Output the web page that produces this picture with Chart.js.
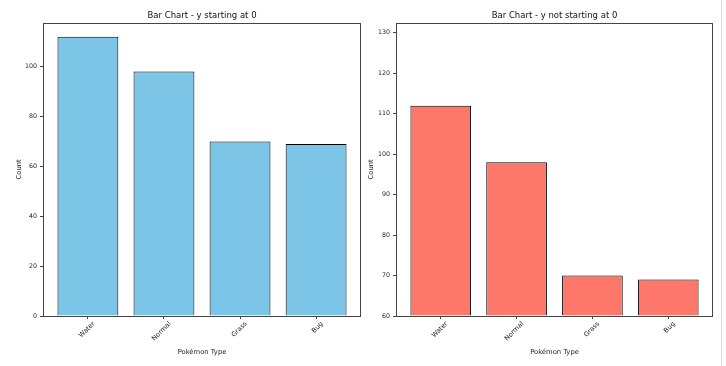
<html>
<head>
<script src="https://cdn.jsdelivr.net/npm/chart.js@4"></script>
<style>
  body { margin: 0; background: #fff; width: 726px; height: 366px; position: relative; overflow: hidden; }
  .box { position: absolute; top: 0; }
  #edge { position: absolute; left: 721px; top: 0; width: 0; height: 366px; border-left: 1px solid #d8dde3; }
</style>
<script>
// data
var types = ["Water", "Normal", "Grass", "Bug"];
var counts = [112, 98, 70, 69];
var leftTicks = [0, 20, 40, 60, 80, 100];
var rightTicks = [60, 70, 80, 90, 100, 110, 120, 130];

var FONT = "DejaVu Sans";

// draws the four spines round the plot area
var frame = {
    id: 'frame',
    afterDraw: function(chart) {
        var a = chart.chartArea, c = chart.ctx;
        c.save();
        c.strokeStyle = '#444';
        c.lineWidth = 1;
        c.strokeRect(Math.round(a.left) + 0.5, Math.round(a.top) + 0.5,
            Math.round(a.right - a.left) - 1, Math.round(a.bottom - a.top));
        c.restore();
    }
};

function makeChart(id, title, color, ymin, ymax, yticks, yWidth, padRight, countPad)
{
    var pts = [];
    for (var i = 0; i < types.length; i++) {
        pts.push({ x: i, y: counts[i] });
    }
    var ctx = document.getElementById(id).getContext('2d');
    return new Chart(ctx, {
        type: 'bar',
        data: {
            datasets: [{
                data: pts,
                backgroundColor: color,
                borderColor: '#000',
                borderWidth: 1,
                barPercentage: 0.8,
                categoryPercentage: 1.0,
                base: ymin
            }]
        },
        options: {
            animation: false,
            responsive: false,
            layout: { padding: { top: 0, left: 0, right: padRight, bottom: 0 } },
            plugins: {
                legend: { display: false },
                tooltip: { enabled: false },
                title: {
                    display: true, text: title, color: '#111', fullSize: false,
                    font: { family: FONT, size: 8.5, weight: 'normal' },
                    padding: { top: 11, bottom: 1.5 }
                }
            },
            scales: {
                x: {
                    type: 'linear', min: -0.59, max: 3.59, offset: false,
                    afterBuildTicks: function(axis) {
                        axis.ticks = types.map(function(t, i) { return { value: i }; });
                    },
                    afterFit: function(axis) { axis.height = 50; },
                    grid: { drawOnChartArea: false, drawTicks: true, tickLength: 3, color: '#444', offset: false },
                    border: { display: false },
                    ticks: {
                        autoSkip: false, minRotation: 45, maxRotation: 45, padding: 1,
                        labelOffset: 6,
                        color: '#222', font: { family: FONT, size: 6.6 },
                        callback: function(v) { return types[v]; }
                    },
                    title: {
                        display: true, text: 'Pokémon Type', color: '#222',
                        font: { family: FONT, size: 6.8 }, padding: { top: 0, bottom: 10 }
                    }
                },
                y: {
                    min: ymin, max: ymax,
                    afterBuildTicks: function(axis) {
                        axis.ticks = yticks.map(function(v) { return { value: v }; });
                    },
                    afterFit: function(axis) { axis.width = yWidth; },
                    grid: { drawOnChartArea: false, drawTicks: true, tickLength: 3, color: '#444' },
                    border: { display: false },
                    ticks: { padding: 3, color: '#222', font: { family: FONT, size: 6.3 } },
                    title: {
                        display: true, text: 'Count', color: '#222',
                        font: { family: FONT, size: 6.8 }, padding: { top: countPad, bottom: countPad }
                    }
                }
            }
        },
        plugins: [frame]
    });
}

function doLoading()
{
    makeChart('leftChart', 'Bar Chart - y starting at 0', '#7cc5e6', 0, 117.6, leftTicks, 43, 4, 15);
    makeChart('rightChart', 'Bar Chart - y not starting at 0', '#fd776a', 60, 132.5, rightTicks, 33, 13, 4);
}
</script>
</head>
<body onload="doLoading()">
  <div class="box" style="left:0px"><canvas id="leftChart" width="365" height="366"></canvas></div>
  <div class="box" style="left:363px"><canvas id="rightChart" width="363" height="366"></canvas></div>
  <div id="edge"></div>
</body>
</html>
